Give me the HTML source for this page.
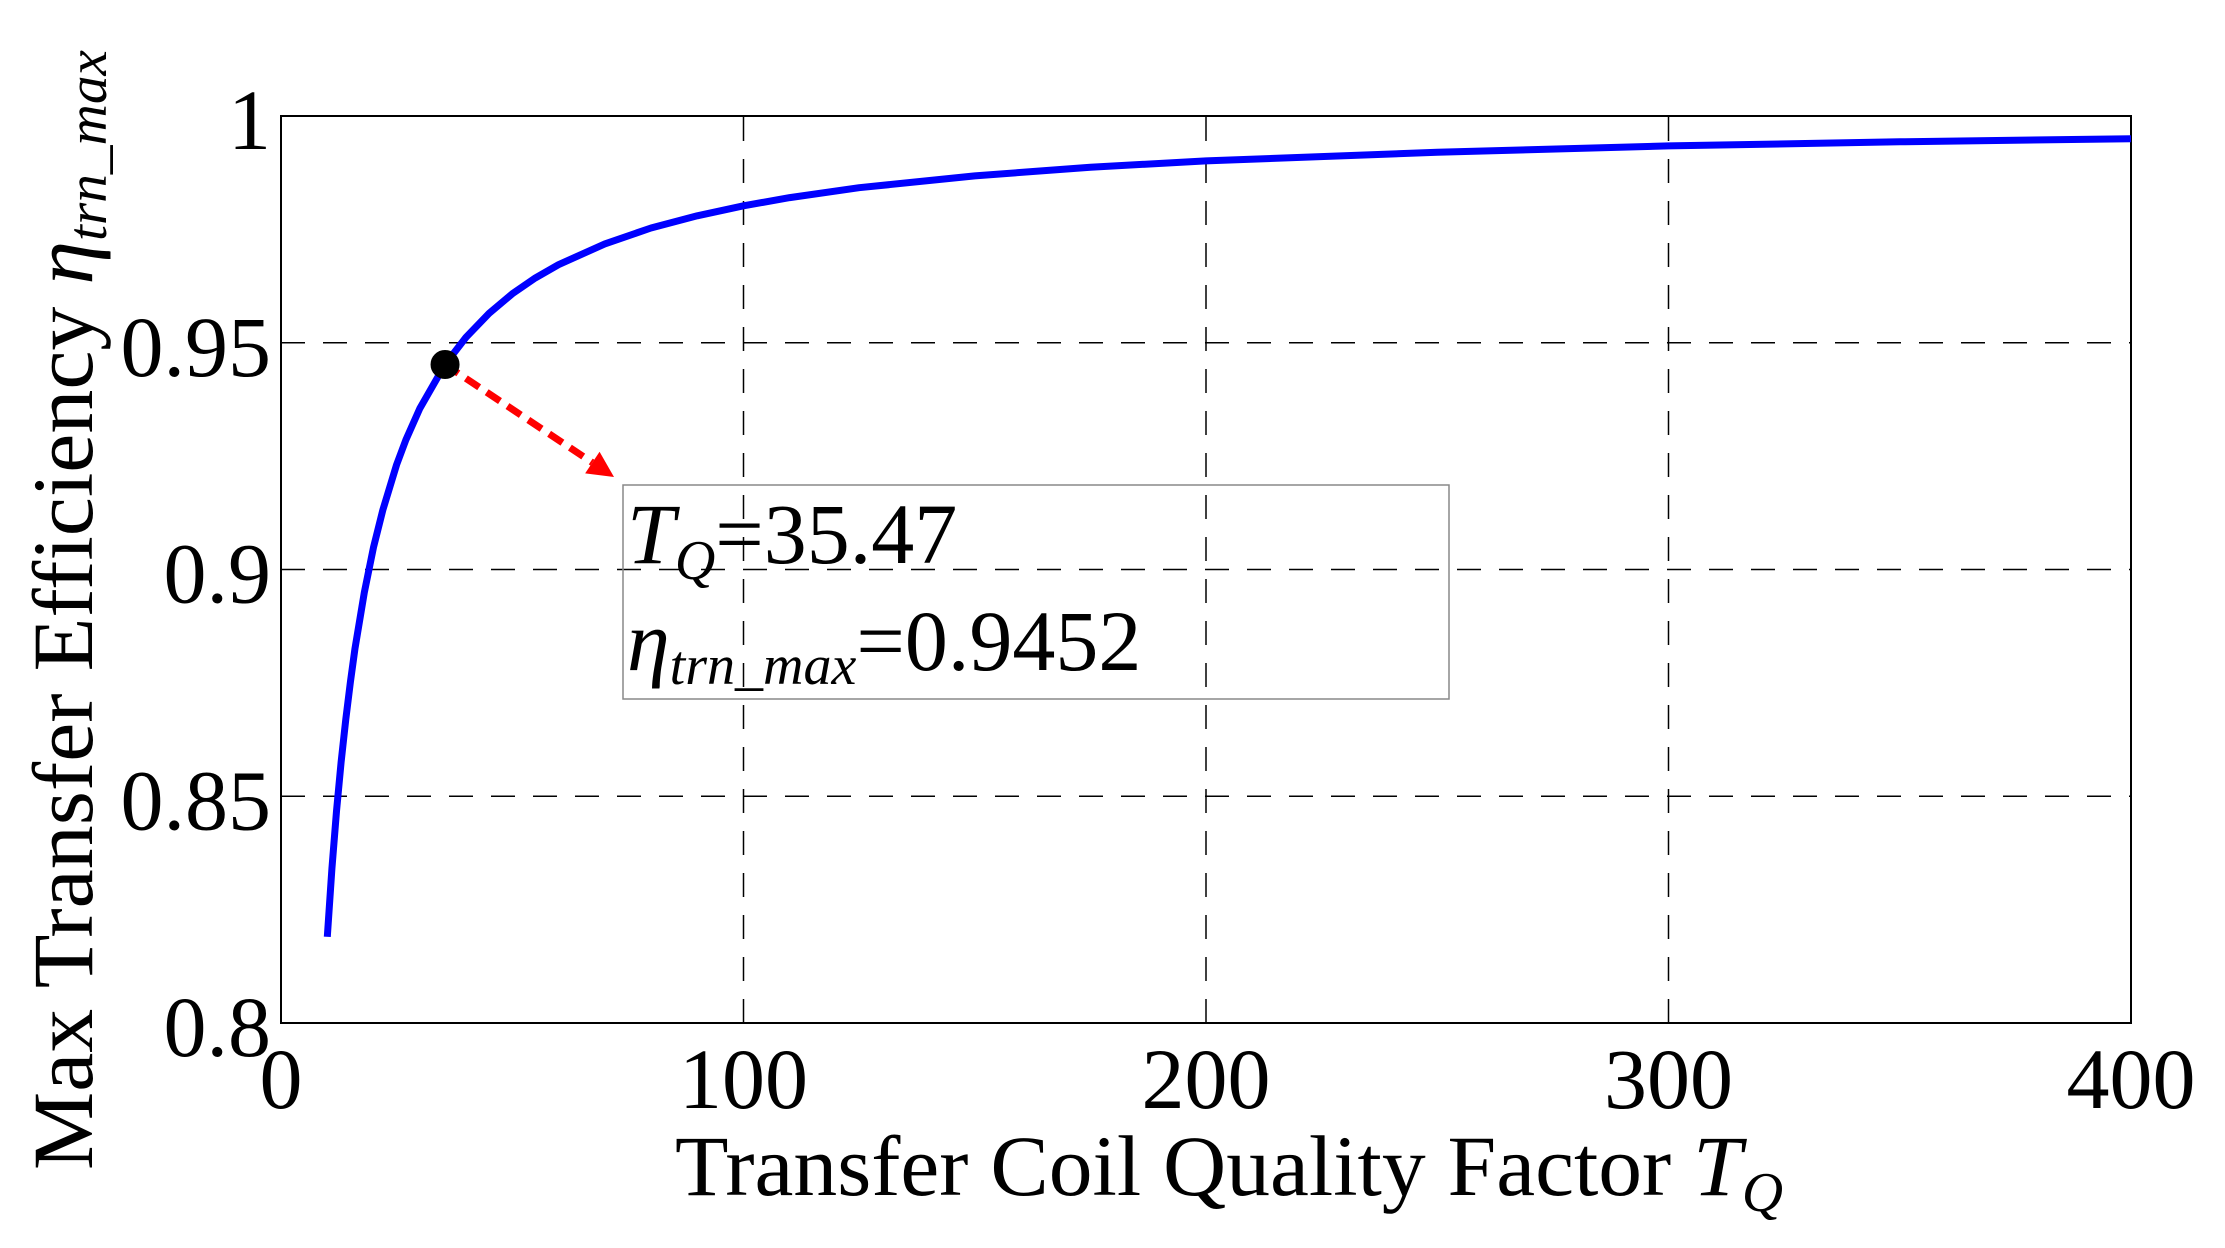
<!DOCTYPE html>
<html><head><meta charset="utf-8"><style>
html,body{margin:0;padding:0;background:#fff;}
svg{display:block;font-family:"Liberation Serif","DejaVu Serif",serif;}
</style></head><body>
<svg id="chart" width="2225" height="1248" viewBox="0 0 2225 1248" xmlns="http://www.w3.org/2000/svg">
<g id="grid"></g>
<rect x="281" y="116" width="1850" height="907" fill="none" stroke="#000" stroke-width="2"/>
<g id="ticks" font-size="86"></g>
<g id="series"></g>
<text x="675" y="1195" font-size="86" textLength="1108" lengthAdjust="spacingAndGlyphs">Transfer Coil Quality Factor <tspan font-style="italic">T</tspan><tspan font-style="italic" font-size="56" dy="16">Q</tspan></text>
<text transform="translate(92,1170) rotate(-90)" font-size="86" textLength="1120" lengthAdjust="spacingAndGlyphs">Max Transfer Efficiency <tspan font-style="italic">η</tspan><tspan font-style="italic" font-size="56" dy="14">trn_max</tspan></text>
<g>
<rect x="623" y="485" width="826" height="214" fill="none" stroke="#888" stroke-width="1.5"/>
<text x="627" y="563" font-size="86"><tspan font-style="italic">T</tspan><tspan font-style="italic" font-size="56" dy="16">Q</tspan><tspan dy="-16">=35.47</tspan></text>
<text x="627" y="670" font-size="86"><tspan font-style="italic">η</tspan><tspan font-style="italic" font-size="56" dy="14">trn_max</tspan><tspan dy="-14">=0.9452</tspan></text>
</g>
</svg>
<script>
const xTicks=[0,100,200,300,400];
const yTicks=[0.8,0.85,0.9,0.95,1];
const yTickLabels=["0.8","0.85","0.9","0.95","1"];
const tq=[10,11,12,13,14,15,16,18,20,22,25,27,30,35.47,40,45,50,55,60,70,80,90,100,110,125,150,175,200,250,300,350,400];
const eta=[0.8190,0.8340,0.8467,0.8575,0.8670,0.8752,0.8826,0.8949,0.9049,0.9131,0.9231,0.9286,0.9355,0.9452,0.9512,0.9565,0.9608,0.9643,0.9672,0.9718,0.9753,0.9780,0.9802,0.9820,0.9842,0.9868,0.9887,0.9901,0.9920,0.9934,0.9943,0.9950];
const markerPoint=[35.47,0.9452];
const arrowEnd=[72,0.9204];
const NS="http://www.w3.org/2000/svg";
const X0=281,X1=2131,Y0=1023,Y1=116;
function sx(v){return X0+(v-0)/(400-0)*(X1-X0);}
function sy(v){return Y0-(v-0.8)/(1-0.8)*(Y0-Y1);}
function mk(tag,attrs,parent){const e=document.createElementNS(NS,tag);for(const k in attrs)e.setAttribute(k,attrs[k]);parent.appendChild(e);return e;}
const grid=document.getElementById('grid'),ticks=document.getElementById('ticks'),series=document.getElementById('series');
xTicks.forEach((t,i)=>{
  if(t>0&&t<400){const l=mk('line',{x1:sx(t),x2:sx(t),y1:Y0,y2:Y1,stroke:'#000','stroke-width':1.5,'stroke-dasharray':'24,18'},grid);
  
  }
  const tx=mk('text',{x:sx(t),y:1108,'text-anchor':'middle'},ticks);tx.textContent=String(t);
  
  
});
yTicks.forEach((t,i)=>{
  if(t>0.8&&t<1){const l=mk('line',{x1:X0,x2:X1,y1:sy(t),y2:sy(t),stroke:'#000','stroke-width':1.5,'stroke-dasharray':'24,18'},grid);
  
  }
  const tx=mk('text',{x:271,y:sy(t)+33,'text-anchor':'end'},ticks);tx.textContent=yTickLabels[i];
  
  
});
const d=tq.map((v,i)=>(i?'L':'M')+sx(v).toFixed(1)+','+sy(eta[i]).toFixed(1)).join(' ');
const p=mk('path',{d:d,fill:'none',stroke:'#0000ff','stroke-width':7,'stroke-linejoin':'round'},series);


const ax=sx(markerPoint[0]),ay=sy(markerPoint[1]),bx=sx(arrowEnd[0]),by=sy(arrowEnd[1]);
const ang=Math.atan2(by-ay,bx-ax),hl=26,hw=13;
const ar=mk('line',{x1:ax,y1:ay,x2:bx-hl*Math.cos(ang),y2:by-hl*Math.sin(ang),stroke:'#ff0000','stroke-width':7,'stroke-dasharray':'16,9'},series);


const bxp=bx-hl*Math.cos(ang),byp=by-hl*Math.sin(ang);
const head=mk('polygon',{points:`${bx},${by} ${bxp-hw*Math.sin(ang)},${byp+hw*Math.cos(ang)} ${bxp+hw*Math.sin(ang)},${byp-hw*Math.cos(ang)}`,fill:'#ff0000'},series);


const m=mk('circle',{cx:ax,cy:ay,r:12,fill:'#000',stroke:'#000','stroke-width':5},series);


</script>
</body></html>
